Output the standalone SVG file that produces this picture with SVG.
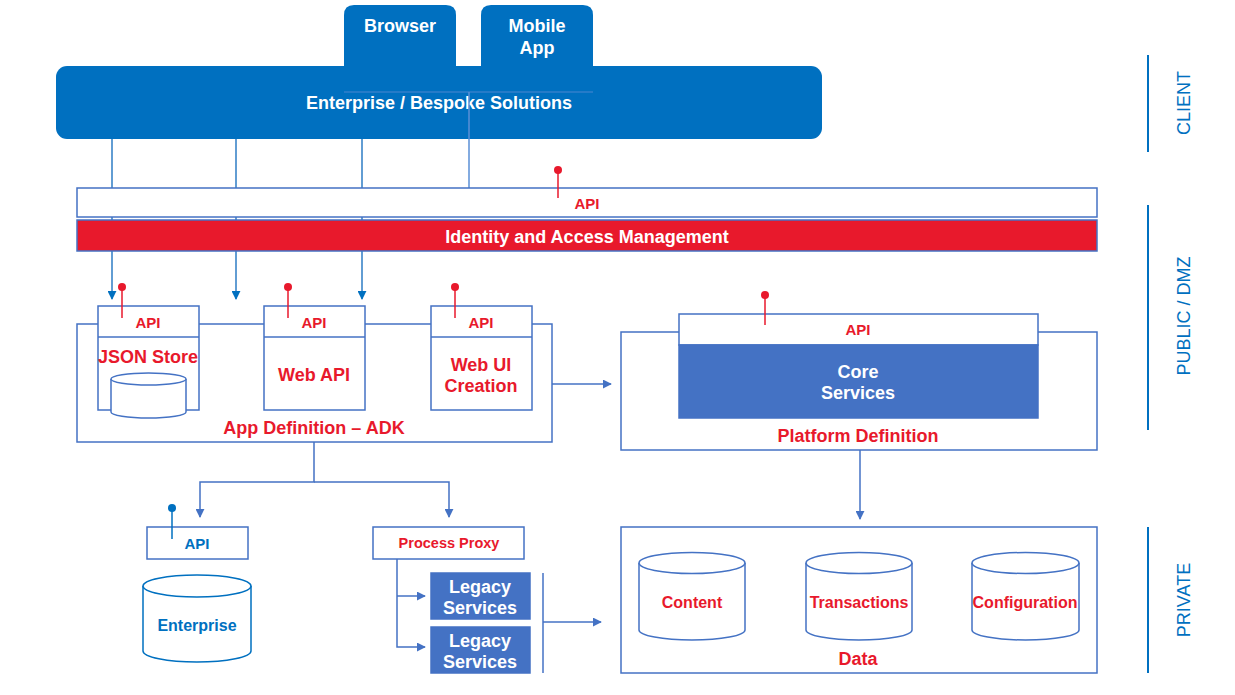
<svg xmlns="http://www.w3.org/2000/svg" width="1235" height="695" viewBox="0 0 1235 695">
<defs>
<style>
text{font-family:"Liberation Sans",Arial,sans-serif;font-weight:bold;text-anchor:middle;dominant-baseline:central}
.box{fill:#fff;stroke:#4472C4;stroke-width:1.5}
.core{fill:#4472C4;stroke:#4472C4;stroke-width:1.5}
.red{fill:#E8192C;font-size:16px}
.api{fill:#E8192C;font-size:15px}
.redl{fill:#E8192C;font-size:18px}
.wht{fill:#fff;font-size:18px}
.blu{fill:#0070C0}
.conn{stroke:#4472C4;stroke-width:1.5;fill:none}
.pinr{stroke:#E8192C;stroke-width:1.5}
.zone{stroke:#0070C0;stroke-width:2}
.zt{fill:#0070C0;font-weight:normal;font-size:18px}
</style>
<marker id="ah" viewBox="0 0 10 10" refX="9" refY="5" markerWidth="9" markerHeight="9" orient="auto" markerUnits="userSpaceOnUse">
<path d="M0,0 L10,5 L0,10 z" fill="#4472C4"/>
</marker>
<marker id="ahd" viewBox="0 0 10 10" refX="9" refY="5" markerWidth="9" markerHeight="9" orient="auto" markerUnits="userSpaceOnUse">
<path d="M0,0 L10,5 L0,10 z" fill="#0070C0"/>
</marker>
</defs>

<g id="client">
<path d="M344,66 V15 Q344,5 354,5 H446 Q456,5 456,15 V66 Z" fill="#0070C0"/>
<path d="M481,66 V15 Q481,5 491,5 H583 Q593,5 593,15 V66 Z" fill="#0070C0"/>
<rect x="56" y="66" width="766" height="73" rx="11" fill="#0070C0"/>
<line x1="344" y1="92" x2="593" y2="92" stroke="#4A86D0" stroke-width="1"/>
<text x="400" y="26" class="wht">Browser</text>
<text x="537" y="26" class="wht">Mobile</text>
<text x="537" y="48" class="wht">App</text>
<text x="439" y="103" class="wht">Enterprise / Bespoke Solutions</text>
</g>

<g id="connectors">
<line x1="112" y1="139" x2="112" y2="299" stroke="#2E7CC4" stroke-width="1.5" marker-end="url(#ahd)"/>
<line x1="236" y1="139" x2="236" y2="299" stroke="#2E7CC4" stroke-width="1.5" marker-end="url(#ahd)"/>
<line x1="362" y1="139" x2="362" y2="299" stroke="#2E7CC4" stroke-width="1.5" marker-end="url(#ahd)"/>
<line x1="469" y1="92" x2="469" y2="188" stroke="#5A8FD6" stroke-width="1.5"/>
<line x1="552" y1="384" x2="611" y2="384" class="conn" marker-end="url(#ah)"/>
<line x1="860" y1="450" x2="860" y2="519" class="conn" marker-end="url(#ah)"/>
<polyline points="314,442 314,482 200,482 200,517" class="conn" marker-end="url(#ah)"/>
<polyline points="314,482 449,482 449,517" class="conn" marker-end="url(#ah)"/>
<polyline points="397,559 397,647 425,647" class="conn" marker-end="url(#ah)"/>
<line x1="397" y1="596" x2="425" y2="596" class="conn" marker-end="url(#ah)"/>
<line x1="543" y1="573" x2="543" y2="673" class="conn"/>
<line x1="543" y1="622" x2="601" y2="622" class="conn" marker-end="url(#ah)"/>
</g>

<g id="api-bar">
<rect x="77" y="188" width="1020" height="29" class="box"/>
<line x1="558" y1="170" x2="558" y2="198" class="pinr"/>
<circle cx="558" cy="170" r="4" fill="#E8192C"/>
<text x="587" y="203" class="api">API</text>
</g>

<g id="iam">
<rect x="77" y="220" width="1020" height="31" fill="#E8192C" stroke="#4472C4" stroke-width="1.5"/>
<text x="587" y="237" class="wht">Identity and Access Management</text>
</g>

<g id="app-definition">
<rect x="77" y="324" width="475" height="118" class="box"/>
<text x="314" y="428" class="redl">App Definition – ADK</text>
</g>

<g id="json-store">
<rect x="98" y="306" width="101" height="104" class="box"/>
<line x1="98" y1="337" x2="199" y2="337" stroke="#4472C4" stroke-width="1.5"/>
<text x="148" y="322" class="api">API</text>
<text x="148" y="357" class="redl">JSON Store</text>
<path d="M111,379 V412 A37.5,6 0 0 0 186,412 V379" class="box"/>
<ellipse cx="148.5" cy="379" rx="37.5" ry="6" class="box"/>
<line x1="122" y1="287" x2="122" y2="318" class="pinr"/>
<circle cx="122" cy="287" r="4" fill="#E8192C"/>
</g>

<g id="web-api">
<rect x="264" y="306" width="101" height="104" class="box"/>
<line x1="264" y1="337" x2="365" y2="337" stroke="#4472C4" stroke-width="1.5"/>
<text x="314" y="322" class="api">API</text>
<text x="314" y="375" class="redl">Web API</text>
<line x1="288" y1="287" x2="288" y2="318" class="pinr"/>
<circle cx="288" cy="287" r="4" fill="#E8192C"/>
</g>

<g id="web-ui">
<rect x="431" y="306" width="101" height="104" class="box"/>
<line x1="431" y1="337" x2="532" y2="337" stroke="#4472C4" stroke-width="1.5"/>
<text x="481" y="322" class="api">API</text>
<text x="481" y="365" class="redl">Web UI</text>
<text x="481" y="386" class="redl">Creation</text>
<line x1="455" y1="287" x2="455" y2="318" class="pinr"/>
<circle cx="455" cy="287" r="4" fill="#E8192C"/>
</g>

<g id="platform-definition">
<rect x="621" y="332" width="476" height="118" class="box"/>
<rect x="679" y="314" width="359" height="31" class="box"/>
<rect x="679" y="345" width="359" height="73" class="core"/>
<text x="858" y="329" class="api">API</text>
<text x="858" y="372" class="wht">Core</text>
<text x="858" y="393" class="wht">Services</text>
<text x="858" y="436" class="redl">Platform Definition</text>
<line x1="765" y1="295" x2="765" y2="325" class="pinr"/>
<circle cx="765" cy="295" r="4" fill="#E8192C"/>
</g>

<g id="data">
<rect x="621" y="527" width="476" height="146" class="box"/>
<path d="M639,563 V630 A53,10 0 0 0 745,630 V563" class="box"/>
<ellipse cx="692" cy="563" rx="53" ry="10.5" class="box"/>
<path d="M806,563 V630 A53,10 0 0 0 912,630 V563" class="box"/>
<ellipse cx="859" cy="563" rx="53" ry="10.5" class="box"/>
<path d="M972,563 V630 A53.5,10 0 0 0 1079,630 V563" class="box"/>
<ellipse cx="1025.5" cy="563" rx="53.5" ry="10.5" class="box"/>
<text x="692" y="602" class="red">Content</text>
<text x="859" y="602" class="red">Transactions</text>
<text x="1025" y="602" class="red">Configuration</text>
<text x="858" y="659" class="redl">Data</text>
</g>

<g id="enterprise">
<rect x="147" y="527" width="101" height="32" class="box"/>
<text x="197" y="543" class="blu" style="font-size:15px">API</text>
<line x1="172" y1="508" x2="172" y2="539" stroke="#0070C0" stroke-width="1.5"/>
<circle cx="172" cy="508" r="4" fill="#0070C0"/>
<path d="M143,586 V651 A54,11 0 0 0 251,651 V586" fill="#fff" stroke="#0070C0" stroke-width="1.5"/>
<ellipse cx="197" cy="586" rx="54" ry="11" fill="#fff" stroke="#0070C0" stroke-width="1.5"/>
<text x="197" y="625" class="blu" style="font-size:16px">Enterprise</text>
</g>

<g id="process-proxy">
<rect x="373" y="527" width="151" height="32" class="box"/>
<text x="449" y="543" class="api" style="font-size:14.5px">Process Proxy</text>
</g>

<g id="legacy-1">
<rect x="431" y="573" width="99" height="46" class="core"/>
<text x="480" y="587" class="wht">Legacy</text>
<text x="480" y="608" class="wht">Services</text>
</g>

<g id="legacy-2">
<rect x="431" y="627" width="99" height="46" class="core"/>
<text x="480" y="641" class="wht">Legacy</text>
<text x="480" y="662" class="wht">Services</text>
</g>

<g id="zones">
<line x1="1148" y1="55" x2="1148" y2="152" class="zone"/>
<line x1="1148" y1="205" x2="1148" y2="430" class="zone"/>
<line x1="1148" y1="527" x2="1148" y2="673" class="zone"/>
<text x="1184" y="103" class="zt" transform="rotate(-90 1184 103)">CLIENT</text>
<text x="1184" y="316" class="zt" transform="rotate(-90 1184 316)">PUBLIC / DMZ</text>
<text x="1184" y="600" class="zt" transform="rotate(-90 1184 600)">PRIVATE</text>
</g>
</svg>
